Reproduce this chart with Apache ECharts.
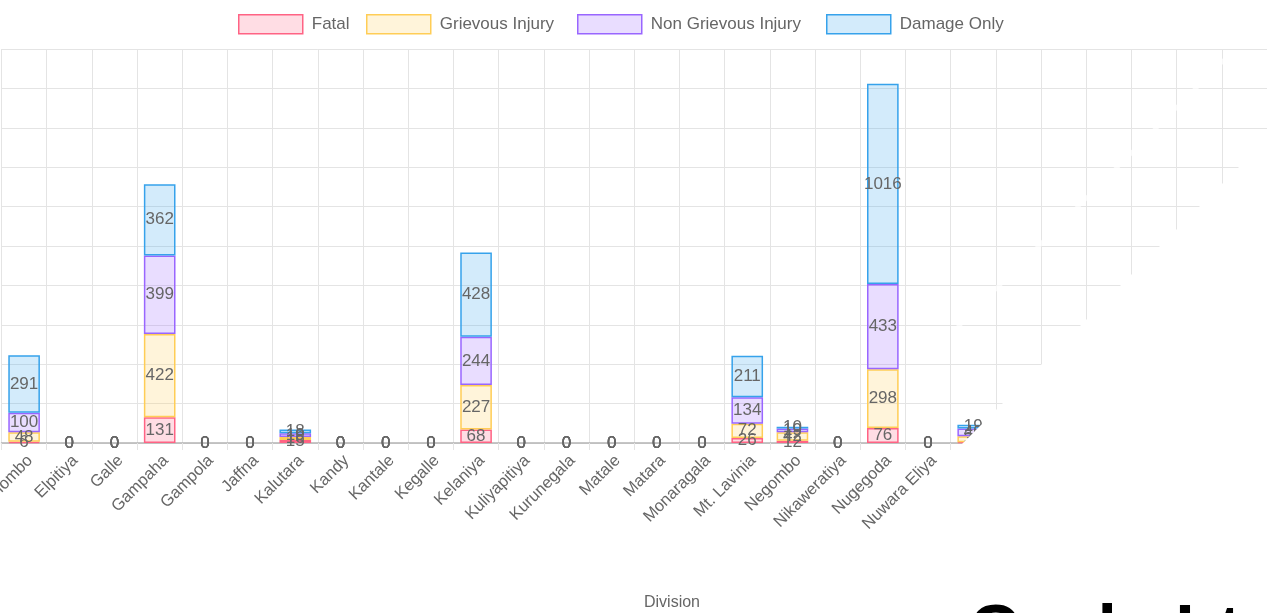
<!DOCTYPE html>
<html>
<head>
<meta charset="utf-8">
<script src="https://cdn.jsdelivr.net/npm/echarts@6/dist/echarts.min.js"></script>
<style>
  html, body { margin: 0; padding: 0; background: #fff; overflow: hidden; }
  #chart { width: 1267px; height: 613px; }
</style>
</head>
<body>
<div id="chart"></div>
<script>
// ---- data ----
const categories = ['Colombo', 'Elpitiya', 'Galle', 'Gampaha', 'Gampola', 'Jaffna', 'Kalutara', 'Kandy',
  'Kantale', 'Kegalle', 'Kelaniya', 'Kuliyapitiya', 'Kurunegala', 'Matale', 'Matara', 'Monaragala',
  'Mt. Lavinia', 'Negombo', 'Nikaweratiya', 'Nugegoda', 'Nuwara Eliya', 'Panadura', 'Polonnaruwa',
  'Puttalam', 'Ratnapura', 'Seethawakapura', 'Tangalle', 'Trincomalee'];
const fatal        = [6, 0, 0, 131, 0, 0, 15, 0, 0, 0, 68, 0, 0, 0, 0, 0, 26, 12, 0, 76, 0, 4, 0, 0, 0, 0, 0, 0];
const grievous     = [48, 0, 0, 422, 0, 0, 16, 0, 0, 0, 227, 0, 0, 0, 0, 0, 72, 42, 0, 298, 0, 30, 0, 0, 0, 0, 0, 0];
const nonGrievous  = [100, 0, 0, 399, 0, 0, 19, 0, 0, 0, 244, 0, 0, 0, 0, 0, 134, 19, 0, 433, 0, 40, 0, 0, 0, 0, 0, 0];
const damageOnly   = [291, 0, 0, 362, 0, 0, 18, 0, 0, 0, 428, 0, 0, 0, 0, 0, 211, 10, 0, 1016, 0, 19, 0, 0, 0, 0, 0, 0];
const seriesNames  = ['Fatal', 'Grievous Injury', 'Non Grievous Injury', 'Damage Only'];
const axisTitle    = 'Division';
const overlayText  = 'Cycle Ltd';

const rgb = [[255, 99, 132], [255, 205, 86], [153, 102, 255], [54, 162, 235]];
const legendLeft = [238, 366, 577, 826];
const valuesList = [fatal, grievous, nonGrievous, damageOnly];
const FONT = '"Liberation Sans", Arial, Helvetica, sans-serif';
const GRID = '#e4e4e4';

const fillOf = i => `rgba(${rgb[i].join(',')},0.22)`;
const lineOf = i => `rgb(${rgb[i].join(',')})`;

const series = seriesNames.map((name, i) => ({
  name: name,
  type: 'bar',
  stack: 'total',
  barWidth: '70%',
  // zero-height bars get no outline (as in the reference)
  data: valuesList[i].map(v => v === 0 ? { value: v, itemStyle: { borderWidth: 0 } } : v),
  itemStyle: { color: fillOf(i), borderColor: lineOf(i), borderWidth: 1.5 },
  label: { show: true, position: 'inside', color: '#666', fontSize: 17, fontFamily: FONT }
}));

const legends = seriesNames.map((n, i) => ({
  left: legendLeft[i],
  top: 14,
  padding: 0,
  itemWidth: 64,
  itemHeight: 19,
  selectedMode: false,
  icon: 'rect',
  textStyle: { color: '#666', fontSize: 17, fontFamily: FONT, padding: [0, 0, 0, 4] },
  data: [{ name: n, itemStyle: { color: fillOf(i), borderColor: lineOf(i), borderWidth: 1.5 } }]
}));

const chart = echarts.init(document.getElementById('chart'), null, { renderer: 'canvas' });
chart.setOption({
  animation: false,
  backgroundColor: '#fff',
  legend: legends,
  grid: { left: 1.5, right: 0, top: 49, bottom: 170, containLabel: false, outerBoundsMode: 'none' },
  xAxis: {
    type: 'category',
    data: categories,
    axisLine: { show: true, lineStyle: { color: '#b4b4b4', width: 1.5 } },
    axisTick: { show: true, length: 7, interval: 0, lineStyle: { color: GRID } },
    splitLine: { show: true, interval: 0, lineStyle: { color: GRID, width: 1 } },
    axisLabel: { rotate: 45, interval: 0, color: '#666', fontSize: 16.5, fontFamily: FONT, margin: 9, verticalAlign: 'top' }
  },
  yAxis: {
    type: 'value',
    min: 0,
    max: 2000,
    interval: 200,
    axisLabel: { show: false },
    axisLine: { show: false },
    axisTick: { show: false },
    splitLine: { show: true, lineStyle: { color: GRID, width: 1 } }
  },
  series: series,
  graphic: [
    {
      type: 'line', z: 100, silent: true,
      shape: { x1: 1232, y1: 52, x2: 955, y2: 330 },
      style: { stroke: 'rgba(255,255,255,0.75)', lineWidth: 4 }
    },
    {
      type: 'polygon', z: 100, silent: true,
      shape: { points: [[786, 620], [1300, 106], [1300, 620]] },
      style: { fill: '#fff' }
    },
    {
      type: 'text', z: 101, silent: true,
      x: 672, y: 603,
      style: { text: axisTitle, fill: '#666', fontSize: 16, fontFamily: FONT, align: 'center', verticalAlign: 'middle' }
    },
    {
      type: 'text', z: 102, silent: true,
      x: 969, y: 600,
      style: { text: overlayText, fill: '#000', fontSize: 70, fontWeight: 'bold', fontFamily: FONT, verticalAlign: 'top', align: 'left' }
    }
  ]
});
</script>
</body>
</html>
